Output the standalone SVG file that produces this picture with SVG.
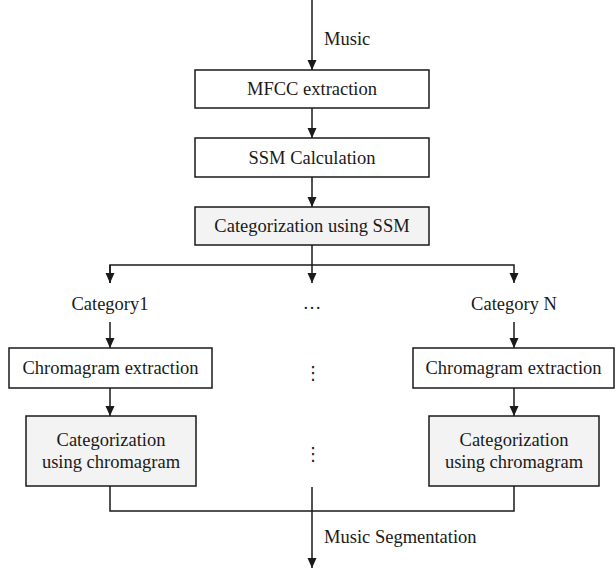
<svg xmlns="http://www.w3.org/2000/svg" width="616" height="571" viewBox="0 0 616 571">
<style>
.box{fill:#ffffff;stroke:#1a1a1a;stroke-width:1.5}
.gbox{fill:#f3f3f3;stroke:#1a1a1a;stroke-width:1.5}
.t{font-family:"Liberation Serif","Times New Roman",serif;font-size:18.5px;fill:#1a1a1a;text-anchor:middle}
.l{font-family:"Liberation Serif","Times New Roman",serif;font-size:18.5px;fill:#1a1a1a}
.c{fill:none;stroke:#1a1a1a;stroke-width:1.5}
.dots{font-family:"DejaVu Serif","DejaVu Sans",serif;font-size:18px;fill:#1a1a1a;text-anchor:middle}
</style>
<defs>
<marker id="ah" markerUnits="userSpaceOnUse" markerWidth="11" markerHeight="10" refX="10" refY="4.5" orient="auto">
<path d="M0,0 L10,4.5 L0,9 z" fill="#1a1a1a"/>
</marker>
</defs>
<rect width="616" height="571" fill="#ffffff"/>
<g id="connectors">
<line class="c" x1="312" y1="0" x2="312" y2="70" marker-end="url(#ah)"/>
<line class="c" x1="312" y1="108" x2="312" y2="138" marker-end="url(#ah)"/>
<line class="c" x1="312" y1="177" x2="312" y2="207" marker-end="url(#ah)"/>
<line class="c" x1="312" y1="245" x2="312" y2="283" marker-end="url(#ah)"/>
<polyline class="c" points="110,283 110,265 514,265 514,283" marker-end="url(#ah)"/>
<line class="c" x1="110" y1="265" x2="110" y2="283" marker-end="url(#ah)"/>
<line class="c" x1="110" y1="322" x2="110" y2="348" marker-end="url(#ah)"/>
<line class="c" x1="514" y1="322" x2="514" y2="348" marker-end="url(#ah)"/>
<line class="c" x1="110" y1="388" x2="110" y2="416" marker-end="url(#ah)"/>
<line class="c" x1="514" y1="388" x2="514" y2="416" marker-end="url(#ah)"/>
<polyline class="c" points="110,486 110,511 514,511 514,486"/>
<line class="c" x1="312" y1="487" x2="312" y2="568" marker-end="url(#ah)"/>
<text class="l" x="324" y="45">Music</text>
<text class="l" x="324" y="543">Music Segmentation</text>
</g>
<g id="mfcc">
<rect class="box" x="195" y="70" width="234" height="38"/>
<text class="t" x="312" y="95">MFCC extraction</text>
</g>
<g id="ssm">
<rect class="box" x="195" y="138" width="234" height="39"/>
<text class="t" x="312" y="164">SSM Calculation</text>
</g>
<g id="catssm">
<rect class="gbox" x="195" y="207" width="234" height="38"/>
<text class="t" x="312" y="232">Categorization using SSM</text>
</g>
<g id="cat1">
<text class="t" x="110" y="310">Category1</text>
</g>
<g id="catmid">
<text class="t" x="312" y="309">…</text>
</g>
<g id="catN">
<text class="t" x="514" y="310">Category N</text>
</g>
<g id="chroma1">
<rect class="box" x="9" y="348" width="203" height="40"/>
<text class="t" x="110.5" y="374">Chromagram extraction</text>
</g>
<g id="chromaN">
<rect class="box" x="413" y="348" width="201" height="40"/>
<text class="t" x="513.5" y="374">Chromagram extraction</text>
</g>
<g id="vdots1">
<text class="dots" x="313" y="379">⋮</text>
</g>
<g id="catchroma1">
<rect class="gbox" x="26" y="416" width="170" height="70"/>
<text class="t" x="111" y="446">Categorization</text>
<text class="t" x="111" y="468">using chromagram</text>
</g>
<g id="vdots2">
<text class="dots" x="313" y="460">⋮</text>
</g>
<g id="catchromaN">
<rect class="gbox" x="429" y="416" width="170" height="70"/>
<text class="t" x="514" y="446">Categorization</text>
<text class="t" x="514" y="468">using chromagram</text>
</g>
</svg>
